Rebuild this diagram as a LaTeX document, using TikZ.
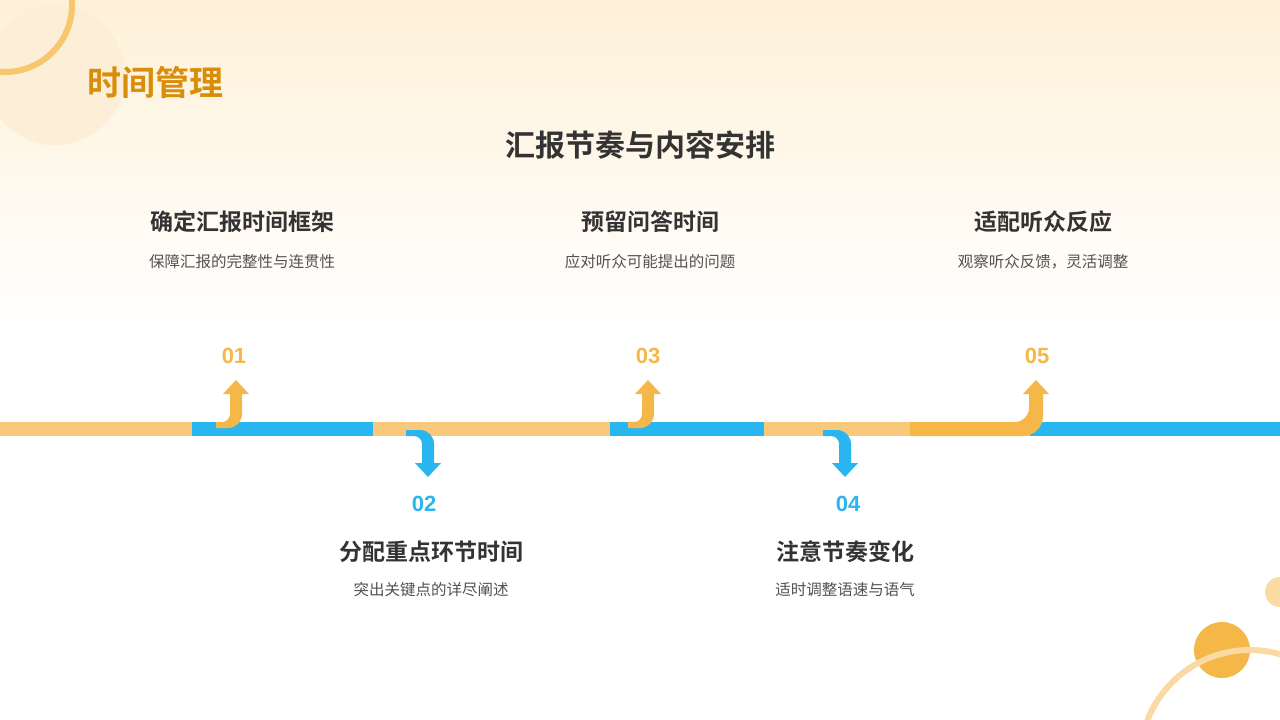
\documentclass[tikz,border=0pt]{standalone}
\usepackage{fontspec}
\setmainfont{Noto Sans CJK SC}
\newfontfamily\cjkb{Noto Sans CJK SC Bold}
\setsansfont{Liberation Sans}
\definecolor{org}{HTML}{F5B848}
\definecolor{orgl}{HTML}{F8C97A}
\definecolor{blu}{HTML}{29B6F0}
\definecolor{txt}{HTML}{333333}
\definecolor{ttl}{HTML}{D98E0B}
\definecolor{cream}{HTML}{FEF1D8}
\tikzset{
 ttlS/.style={font=\cjkb\fontsize{23}{26}\selectfont, text=txt},
 subS/.style={font=\fontsize{15.5}{18}\selectfont, text=txt!85},
 numS/.style={font=\sffamily\bfseries\fontsize{22}{24}\selectfont},
 bar/.style={line width=14pt},
 shaft/.style={line width=12pt},
}
\begin{document}
\begin{tikzpicture}[x=1pt,y=-1pt]
\useasboundingbox (0,0) rectangle (1280,720);
\shade[top color=cream, bottom color=white] (0,0) rectangle (1280,330);
\fill[white] (0,330) rectangle (1280,720);
% decorations
\begin{scope}
\clip (0,0) rectangle (1280,720);
\fill[orgl!30] (55,75) circle (70);
\draw[org!80, line width=6pt] (5,5) circle (67);
\fill[org!50] (1280,592) circle (15);
\fill[org] (1222,650) circle (28);
\draw[orgl!70, line width=6pt] (1250,760) circle (110);
\end{scope}
% texts
\node[font=\cjkb\fontsize{34}{38}\selectfont, text=ttl] (t) at (155,82) {时间管理};
\node[font=\cjkb\fontsize{30}{34}\selectfont, text=txt] (h) at (640,145) {汇报节奏与内容安排};
\node[ttlS] (a1) at (242,222) {确定汇报时间框架};
\node[subS] (b1) at (242,262) {保障汇报的完整性与连贯性};
\node[ttlS] (a3) at (650,222) {预留问答时间};
\node[subS] (b3) at (650,262) {应对听众可能提出的问题};
\node[ttlS] (a5) at (1043,222) {适配听众反应};
\node[subS] (b5) at (1043,262) {观察听众反馈，灵活调整};
\node[ttlS] (a2) at (431,552) {分配重点环节时间};
\node[subS] (b2) at (431,590) {突出关键点的详尽阐述};
\node[ttlS] (a4) at (845,552) {注意节奏变化};
\node[subS] (b4) at (845,590) {适时调整语速与语气};
\node[numS, text=org] (n1) at (234,356) {01};
\node[numS, text=blu] (n2) at (424,504) {02};
\node[numS, text=org] (n3) at (648,356) {03};
\node[numS, text=blu] (n4) at (848,504) {04};
\node[numS, text=org] (n5) at (1037,356) {05};
% bar
\draw[bar, orgl] (0,429) -- (192,429);
\draw[bar, blu] (192,429) -- (373,429);
\draw[bar, orgl] (373,429) -- (610,429);
\draw[bar, blu] (610,429) -- (764,429);
\draw[bar, orgl] (764,429) -- (1030,429);
\draw[bar, blu] (1030,429) -- (1280,429);
% up arrows
\foreach \c in {236,648} {
 \fill[org] (\c-20,422) -- (\c-14,422) arc[start angle=90,end angle=0,radius=8] -- (\c-6,394) -- (\c+6,394) -- (\c+6,414) arc[start angle=0,end angle=90,radius=14] -- (\c-20,428) -- cycle;
 \fill[org] (\c-13,394) -- (\c+13,394) -- (\c,380) -- cycle;
}
\fill[org] (910,422) -- (1015,422) arc[start angle=90,end angle=0,radius=14] -- (1029,394) -- (1043,394) -- (1043,416) arc[start angle=0,end angle=90,radius=20] -- (910,436) -- cycle;
\fill[org] (1023,394) -- (1049,394) -- (1036,380) -- cycle;
% down arrows
\foreach \c in {428,845} {
 \fill[blu] (\c-22,436) -- (\c-14,436) arc[start angle=-90,end angle=0,radius=8] -- (\c-6,463) -- (\c+6,463) -- (\c+6,444) arc[start angle=0,end angle=-90,radius=14] -- (\c-22,430) -- cycle;
 \fill[blu] (\c-13,463) -- (\c+13,463) -- (\c,477) -- cycle;
}
\end{tikzpicture}
\end{document}
